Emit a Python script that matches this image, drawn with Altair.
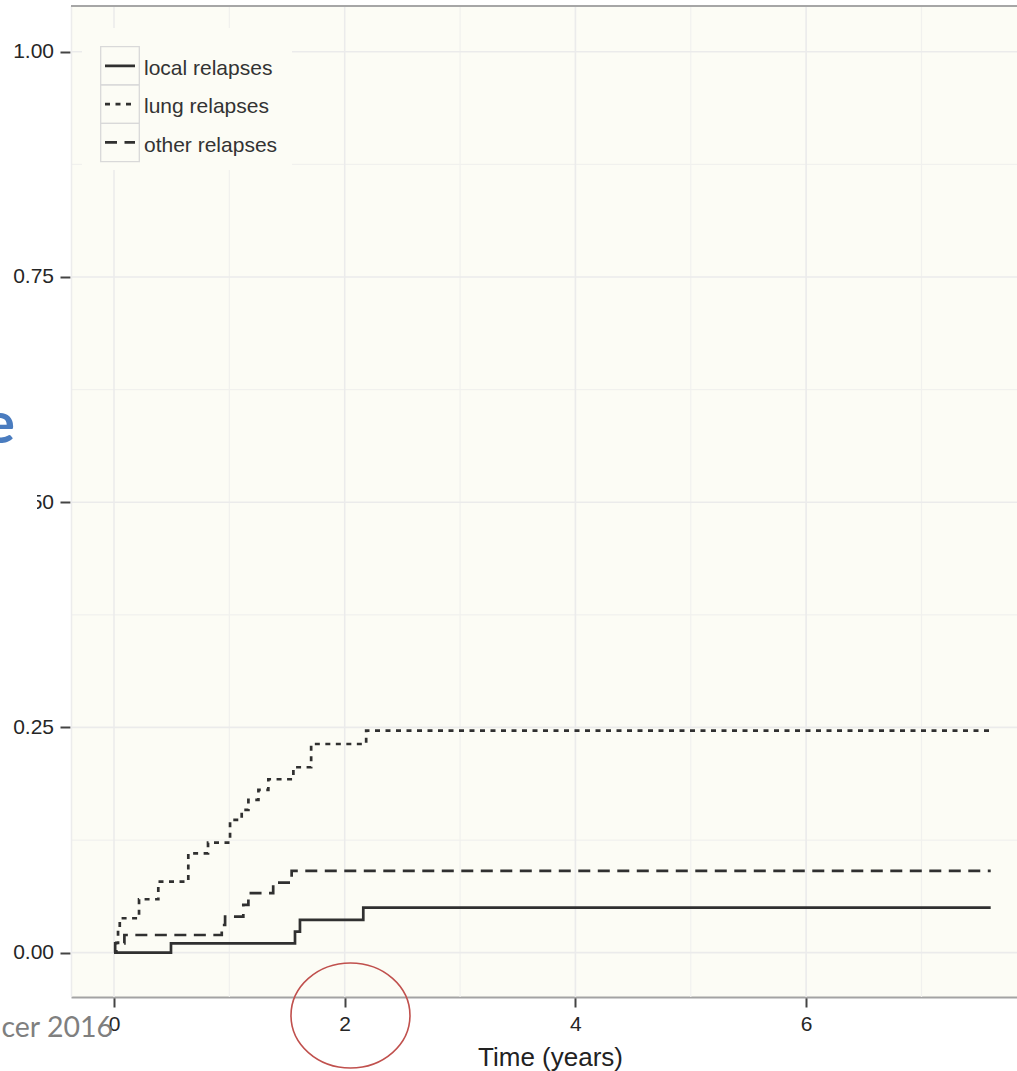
import altair as alt
import pandas as pd

# Cumulative incidence of relapse by site (time in years, cumulative probability)
local_time = [0, 0.494, 1.569, 1.612, 2.161, 7.6]
local_value = [0, 0.0104, 0.0233, 0.0363, 0.0499, 0.0499]

lung_time = [0, 0.02, 0.035, 0.05, 0.217, 0.384, 0.644, 0.815, 1.006, 1.107,
             1.165, 1.252, 1.338, 1.555, 1.709, 2.186, 7.6]
lung_value = [0, 0.0108, 0.025, 0.0382, 0.0593, 0.0788, 0.1103, 0.1221, 0.1473, 0.1584,
              0.1695, 0.1806, 0.1925, 0.2058, 0.2316, 0.2464, 0.2464]

other_time = [0, 0.01, 0.09, 0.934, 0.963, 1.121, 1.165, 1.38, 1.54, 7.6]
other_value = [0, 0.0104, 0.0196, 0.0307, 0.040, 0.053, 0.066, 0.0777, 0.0907, 0.0907]

series_names = ["local relapses", "lung relapses", "other relapses"]

x_ticks = [0, 2, 4, 6]
x_minor = [1, 3, 5, 7]
y_ticks = [0, 0.25, 0.5, 0.75, 1.0]
y_minor = [0.125, 0.375, 0.625, 0.875]

# highlight ring around the 2-year tick (centre in data units)
ring_center = [2.05, -0.0697]

# ---- styling -------------------------------------------------------------
W, H = 946, 991
BG = "#fcfcf5"
LINE = "#303030"
LW = 2.7
DASHES = [[1, 0], [5, 5.5], [12, 7.5]]
FONT = "Liberation Sans"

xs = alt.Scale(domain=[-0.3728, 7.828], nice=False, zero=False)
ys = alt.Scale(domain=[-0.0492, 1.0507], nice=False, zero=False)

x_axis = alt.Axis(
    values=x_ticks, format="d", title="Time (years)", grid=False, zindex=0,
    domainColor="#a3a3a3", domainWidth=2, tickColor="#444444", tickWidth=2,
    tickSize=10, labelPadding=6, labelFont=FONT, labelFontSize=21,
    labelColor="#262626", labelFlush=False, titleFont=FONT, titleFontSize=26,
    titleFontWeight="normal", titleColor="#222222", titleX=479, titleY=68,
    titleBaseline="alphabetic", titleAlign="center",
)
y_axis = alt.Axis(
    values=y_ticks, format=".2f", title="", grid=False, zindex=0, domain=False,
    offset=1, tickColor="#444444", tickWidth=2, tickSize=10, labelPadding=6.5,
    labelFont=FONT, labelFontSize=21, labelColor="#262626", labelFlush=False,
)

X = alt.X("t:Q", scale=xs, axis=x_axis)
Y = alt.Y("v:Q", scale=ys, axis=y_axis)

one = pd.DataFrame({"k": [0]})

# ---- grid ----------------------------------------------------------------
grid_x_minor = alt.Chart(pd.DataFrame({"t": x_minor})).mark_rule(
    color="#f1f1ee", strokeWidth=1.2).encode(x=X)
grid_y_minor = alt.Chart(pd.DataFrame({"v": y_minor})).mark_rule(
    color="#f1f1ee", strokeWidth=1.2).encode(y=Y)
grid_x_major = alt.Chart(pd.DataFrame({"t": x_ticks})).mark_rule(
    color="#ebebeb", strokeWidth=1.6).encode(x=X)
grid_y_major = alt.Chart(pd.DataFrame({"v": y_ticks})).mark_rule(
    color="#ebebeb", strokeWidth=1.6).encode(y=Y)

left_edge = alt.Chart(one).mark_rule(color="#ececec", strokeWidth=1.5).encode(
    x=alt.value(0.5), y=alt.value(0), y2=alt.value(H))
top_edge = alt.Chart(one).mark_rule(color="#a6a6a6", strokeWidth=2).encode(
    x=alt.value(0), x2=alt.value(W), y=alt.value(0))

# ---- step curves ---------------------------------------------------------
rows = []
for name, ts, vs in [(series_names[0], local_time, local_value),
                     (series_names[1], lung_time, lung_value),
                     (series_names[2], other_time, other_value)]:
    for t, v in zip(ts, vs):
        rows.append({"series": name, "t": t, "v": v})
curves_df = pd.DataFrame(rows)

curves = alt.Chart(curves_df).mark_line(
    interpolate="step-after", color=LINE, strokeWidth=LW, strokeCap="butt"
).encode(
    x=X, y=Y,
    strokeDash=alt.StrokeDash("series:N", scale=alt.Scale(domain=series_names, range=DASHES),
                              legend=None),
)

# ---- legend (drawn as marks) --------------------------------------------
legend_layers = [
    alt.Chart(one).mark_rect(fill=BG, strokeWidth=0).encode(
        x=alt.value(11), x2=alt.value(221), y=alt.value(22), y2=alt.value(164))
]
KEY_TOP, KEY_H = 40.7, 38.3
for i, name in enumerate(series_names):
    top = KEY_TOP + i * KEY_H
    legend_layers.append(alt.Chart(one).mark_rect(
        fill=BG, stroke="#d9d9d9", strokeWidth=1.3).encode(
        x=alt.value(29.7), x2=alt.value(68.3), y=alt.value(top), y2=alt.value(top + KEY_H)))
    legend_layers.append(alt.Chart(one).mark_rule(
        color=LINE, strokeWidth=LW, strokeCap="butt", strokeDash=DASHES[i]).encode(
        x=alt.value(34), x2=alt.value(64), y=alt.value(top + KEY_H / 2)))
    legend_layers.append(alt.Chart(one).mark_text(
        text=name, font=FONT, fontSize=21, color="#333333", align="left",
        baseline="alphabetic").encode(x=alt.value(73), y=alt.value(top + 28.3)))

# ---- slide overlay: title fragment, footer, highlight ring -------------
cover = alt.Chart(one).mark_rect(fill="white", strokeWidth=0).encode(
    x=alt.value(-71), x2=alt.value(-34), y=alt.value(374), y2=alt.value(554))
title_frag = alt.Chart(one).mark_text(
    text="e", font="Lato", fontSize=58, fontWeight="bold", color="#4a7cbf",
    align="right", baseline="alphabetic").encode(x=alt.value(-56), y=alt.value(437))
footer = alt.Chart(one).mark_text(
    text="cer 2016", font="Lato", fontSize=28.5, color="#7f7f7f",
    align="right", baseline="alphabetic").encode(x=alt.value(42), y=alt.value(1031))

ellipse_path = "M -1 0 A 1 0.882 0 1 1 1 0 A 1 0.882 0 1 1 -1 0 Z"
ring = alt.Chart(pd.DataFrame({"t": [ring_center[0]], "v": [ring_center[1]]})).mark_point(
    shape=ellipse_path, size=14161, filled=False, stroke="#c0504d", strokeWidth=1.6,
    opacity=1).encode(x=X, y=Y)

chart = alt.layer(
    grid_x_minor, grid_y_minor, grid_x_major, grid_y_major, left_edge, top_edge,
    *legend_layers, curves, cover, title_frag, footer, ring,
).properties(
    width=W, height=H,
    padding={"left": 71, "top": 6, "right": 0, "bottom": 74},
    autosize=alt.AutoSizeParams(type="none"),
    background="white",
).configure_view(fill=BG, strokeWidth=0)

chart.save("out.html", embed_options={"renderer": "svg", "actions": False})
